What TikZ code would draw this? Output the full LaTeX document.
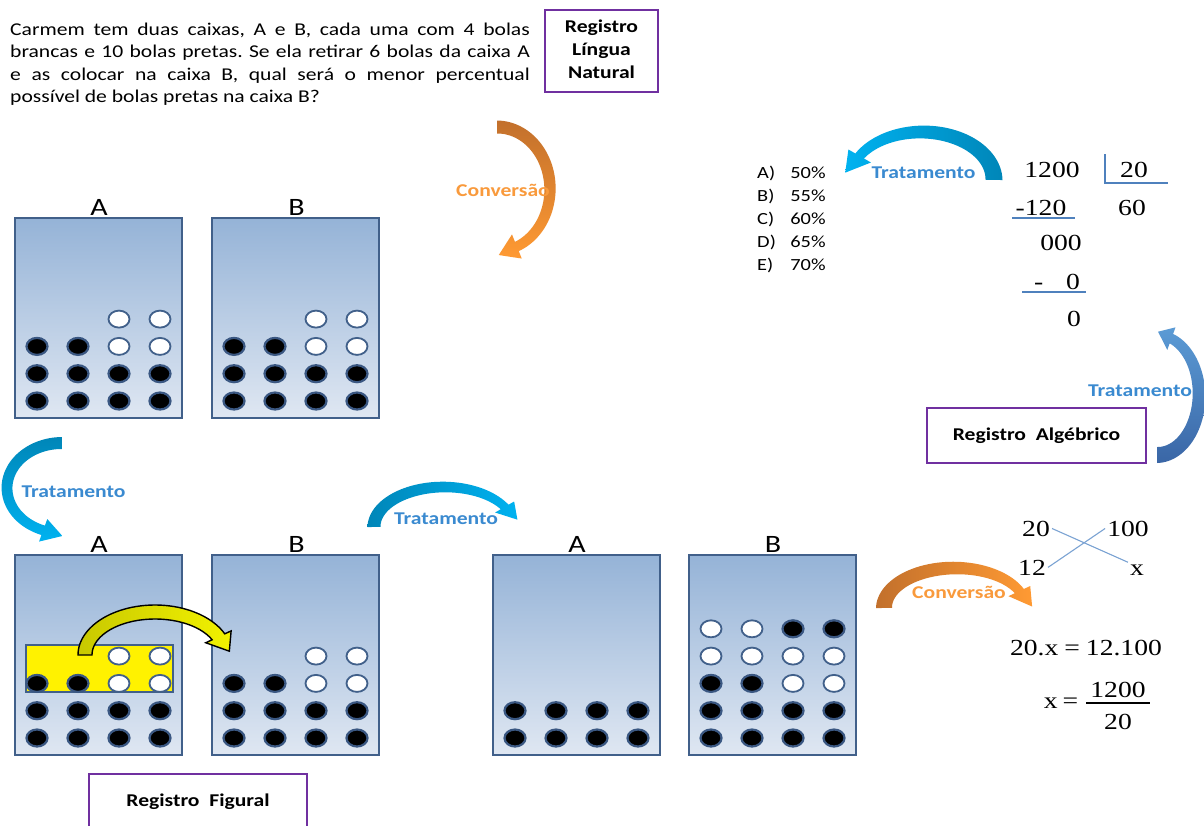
\documentclass[tikz,border=0pt]{standalone}
\usepackage{fontspec}
\setmainfont{Carlito}
\newfontfamily\tnr{Liberation Serif}
\usepackage{graphicx}
\definecolor{boxtop}{HTML}{95B3D7}
\definecolor{boxbot}{HTML}{DFE7F2}
\definecolor{boxline}{HTML}{41608A}
\definecolor{ballhalo}{HTML}{3A5782}
\definecolor{regpurple}{HTML}{7030A0}
\definecolor{tratblue}{HTML}{3A8AD0}
\definecolor{convorange}{HTML}{F99A3C}
\definecolor{cyanL}{HTML}{00B2F0}
\definecolor{cyanD}{HTML}{0086B8}
\definecolor{steelL}{HTML}{5B9BD5}
\definecolor{steelD}{HTML}{3A66A6}
\definecolor{orD}{HTML}{C2702C}
\definecolor{orL}{HTML}{FF9A33}
\definecolor{divline}{HTML}{4F81BD}
\definecolor{crossline}{HTML}{7BA3D3}
\definecolor{yelD}{HTML}{C8C800}
\definecolor{yelL}{HTML}{F2F200}
\newcommand\sx[1]{\scalebox{1.2}[1]{#1}}
% curved tapered arrow
\def\carrow#1#2#3#4#5#6#7#8#9{\def\ArCx{#1}\def\ArCy{#2}\def\ArRx{#3}\def\ArRy{#4}\def\ArS{#5}\def\ArE{#6}\def\ArWs{#7}\def\ArWe{#8}\def\ArHw{#9}\carrowB}
\def\carrowB#1#2{%
  \def\ArHl{#1}%
  \pgfmathsetmacro\ArSg{sign(\ArE-(\ArS))}%
  \pgfmathsetmacro\ArTx{-\ArRx*sin(\ArE)}%
  \pgfmathsetmacro\ArTy{\ArRy*cos(\ArE)}%
  \pgfmathsetmacro\ArTl{veclen(\ArTx,\ArTy)}%
  \pgfmathsetmacro\ArPx{\ArCx+\ArRx*cos(\ArE)+\ArSg*\ArHl*(\ArTx)/\ArTl}%
  \pgfmathsetmacro\ArPy{\ArCy+\ArRy*sin(\ArE)+\ArSg*\ArHl*(\ArTy)/\ArTl}%
  \path[#2] plot[domain=0:1,samples=50]
     ({\ArCx+(\ArRx+\ArWs+(\ArWe-\ArWs)*\x)*cos(\ArS+(\ArE-(\ArS))*\x)},
      {\ArCy+(\ArRy+\ArWs+(\ArWe-\ArWs)*\x)*sin(\ArS+(\ArE-(\ArS))*\x)})
   -- ({\ArCx+(\ArRx+\ArHw)*cos(\ArE)},{\ArCy+(\ArRy+\ArHw)*sin(\ArE)})
   -- (\ArPx,\ArPy)
   -- ({\ArCx+(\ArRx-\ArHw)*cos(\ArE)},{\ArCy+(\ArRy-\ArHw)*sin(\ArE)})
   -- plot[domain=0:1,samples=50]
     ({\ArCx+(\ArRx-\ArWe-(\ArWs-\ArWe)*\x)*cos(\ArE+(\ArS-(\ArE))*\x)},
      {\ArCy+(\ArRy-\ArWe-(\ArWs-\ArWe)*\x)*sin(\ArE+(\ArS-(\ArE))*\x)})
   -- cycle;}
\newcommand\pball[3]{\if#3B\path[bball] (#1,#2) ellipse [x radius=10.5,y radius=8.5];\fi
  \if#3W\path[wball] (#1,#2) ellipse [x radius=10.5,y radius=8.5];\fi}
\newcommand\fillbox[3]{\foreach \bi/\ba/\bb/\bc/\bd in {#3}{%
  \pgfmathsetmacro\byy{#2+183-27.3*\bi}%
  \pball{#1+22}{\byy}{\ba}\pball{#1+63}{\byy}{\bb}\pball{#1+104}{\byy}{\bc}\pball{#1+145}{\byy}{\bd}}}
\begin{document}
\begin{tikzpicture}[x=1pt,y=-1pt,
  boxst/.style={draw=boxline,line width=2.2pt,top color=boxtop,bottom color=boxbot},
  bball/.style={fill=black,draw=ballhalo,line width=2.2pt},
  wball/.style={fill=white,draw=boxline,line width=1.8pt},
  regbox/.style={draw=regpurple,line width=2.4pt,inner sep=0,align=center,font=\fontsize{18}{23}\bfseries\selectfont},
  lab/.style={anchor=base,inner sep=0,font=\fontsize{25}{28}\selectfont},
  trat/.style={anchor=base,inner sep=0,text=tratblue,font=\fontsize{18}{22}\bfseries\selectfont},
  conv/.style={anchor=base,inner sep=0,text=convorange,font=\fontsize{18}{22}\bfseries\selectfont},
  mth/.style={anchor=base,inner sep=0,font=\fontsize{23}{27}\tnr},
  divl/.style={draw=divline,line width=1.3pt},
  crossl/.style={draw=crossline,line width=1.1pt}]
\useasboundingbox (0,0) rectangle (1204,825);
\fill[white] (0,0) rectangle (1204,825);

% statement
\node[anchor=base west,inner sep=0] (enun) at (10,35) {\sx{\parbox[t]{433pt}{\fontsize{18}{22.5}\selectfont\frenchspacing\tolerance=10000\hyphenpenalty=10000
Carmem tem duas caixas, A e B, cada uma com 4 bolas\linebreak
brancas e 10 bolas pretas. Se ela retirar 6 bolas da caixa A\linebreak
e as colocar na caixa B, qual será o menor percentual\linebreak
possível de bolas pretas na caixa B?}}};
\node[regbox,minimum width=113,minimum height=82] (rln) at (601.5,51)
  {\sx{\begin{tabular}{@{}c@{}}Registro\\Língua\\Natural\end{tabular}}};

% row 1 boxes
\path[boxst] (15,218) rectangle (182,418);
\path[boxst] (212,218) rectangle (379,418);
\fillbox{15}{218}{0/B/B/B/B,1/B/B/B/B,2/B/B/W/W,3/N/N/W/W}
\fillbox{212}{218}{0/B/B/B/B,1/B/B/B/B,2/B/B/W/W,3/N/N/W/W}
\node[lab] (a1) at (99,215) {\sx{A}};
\node[lab] (b1) at (296.5,215) {\sx{B}};

% row 2 boxes
\path[boxst] (15,555) rectangle (182,755);
\path[boxst] (212,555) rectangle (379,755);
\path[fill=yellow,draw=boxline,line width=1.5pt] (26,645) rectangle (173,692);
\fillbox{15}{555}{0/B/B/B/B,1/B/B/B/B,2/B/B/W/W,3/N/N/W/W}
\fillbox{212}{555}{0/B/B/B/B,1/B/B/B/B,2/B/B/W/W,3/N/N/W/W}
\node[lab] (a2) at (99,552) {\sx{A}};
\node[lab] (b2) at (296.5,552) {\sx{B}};
\carrow{155}{655}{70}{43}{-180}{-25}{7}{7}{14}{18}{draw=black,line width=1.4pt,left color=yelD,right color=yelL}

% row 3 boxes
\path[boxst] (493,555) rectangle (660,755);
\path[boxst] (689,555) rectangle (856,755);
\fillbox{493}{555}{0/B/B/B/B,1/B/B/B/B}
\fillbox{689}{555}{0/B/B/B/B,1/B/B/B/B,2/B/B/W/W,3/W/W/W/W,4/W/W/B/B}
\node[lab] (a3) at (577,552) {\sx{A}};
\node[lab] (b3) at (773,552) {\sx{B}};

% curved arrows
\carrow{497}{189}{53}{62}{-90}{68}{6.5}{5}{13}{20}{top color=orD,bottom color=orL}
\node[conv] (conv1) at (503,196) {\sx{Conversão}};
\carrow{922}{180}{72}{48}{0}{-150}{8.5}{5}{13}{22}{left color=cyanL,right color=cyanD}
\node[trat] (trat1) at (923.5,178) {\sx{Tratamento}};
\carrow{62}{488}{55}{45}{-90}{-250}{6}{5}{12}{20}{top color=cyanD,bottom color=cyanL}
\node[trat] (trat2) at (73.5,497) {\sx{Tratamento}};
\carrow{444}{527}{70}{40}{-180}{-30}{6.5}{4.5}{11}{18}{left color=cyanD,right color=cyanL}
\node[trat] (trat3) at (446,524) {\sx{Tratamento}};
\carrow{1157}{395}{42}{60}{90}{-70}{8}{5}{12}{15}{top color=steelL,bottom color=steelD}
\node[trat] (trat4) at (1140,396) {\sx{Tratamento}};
\carrow{955}{608}{71}{40}{-180}{-25}{8}{5}{12}{20}{left color=orD,right color=orL}
\node[conv] (conv2) at (959,598) {\sx{Conversão}};

% options
\node[anchor=base west,inner sep=0,font=\fontsize{17}{23}\selectfont] (opts) at (757,178)
  {\sx{\begin{tabular}[t]{@{}l@{\hspace{12pt}}l@{}}A) & 50\%\\B) & 55\%\\C) & 60\%\\D) & 65\%\\E) & 70\%\end{tabular}}};

% long division
\node[mth] (d1200) at (1052,177) {\sx{1200}};
\node[mth] (d20) at (1134,177) {\sx{20}};
\node[mth] (d120) at (1041,215) {\sx{-120}};
\node[mth] (d60) at (1132,215) {\sx{60}};
\node[mth] (d000) at (1061,250) {\sx{000}};
\node[mth] (dm0) at (1057,289) {\sx{-\hspace{19pt}0}};
\node[mth] (d0) at (1074,326) {\sx{0}};
\draw[divl] (1105,154) |- (1168,183);
\draw[divl] (1012,218) -- (1075,218);
\draw[divl] (1022,292) -- (1086,292);

% registro algebrico
\node[regbox,minimum width=219,minimum height=55] (ralg) at (1036.5,435.5) {\sx{Registro\ \ Algébrico}};

% rule of three
\node[mth,inner sep=2] (c20) at (1036,536) {\sx{20}};
\node[mth,inner sep=2] (c100) at (1128,536) {\sx{100}};
\node[mth,inner sep=2] (c12) at (1032,575) {\sx{12}};
\node[mth,inner sep=2] (cx) at (1137,575) {\sx{x}};
\draw[crossl] (c20.east) -- (cx.north west);
\draw[crossl] (c12.east) -- (c100.west);
\node[mth] (eq1) at (1086,655) {\sx{20.x\hspace{5pt}=\hspace{5pt}12.100}};
\node[mth] (eqx) at (1061,708) {\sx{x\hspace{4pt}=}};
\node[mth] (num) at (1118,697) {\sx{1200}};
\node[mth] (den) at (1118,729) {\sx{20}};
\draw[line width=1.2pt] (1086,703) -- (1150,703);

% registro figural
\node[regbox,minimum width=218,minimum height=62,anchor=north] (rfig) at (198,773) {};
\node[anchor=base,inner sep=0,font=\fontsize{18}{23}\bfseries\selectfont] (rfigt) at (198,806) {\sx{Registro\ \ Figural}};
\end{tikzpicture}
\end{document}
